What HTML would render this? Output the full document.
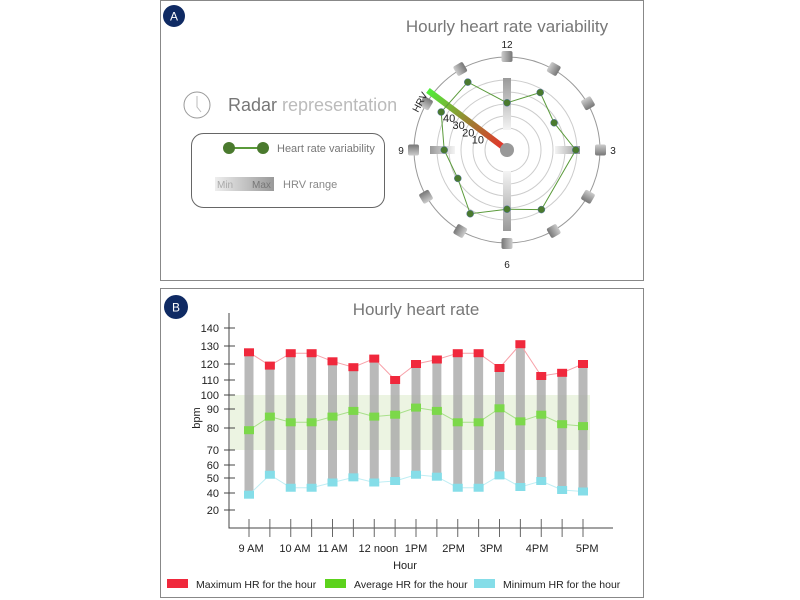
<!DOCTYPE html>
<html><head><meta charset="utf-8"><style>
body{margin:0;width:800px;height:600px;background:#fff;font-family:"Liberation Sans",sans-serif;overflow:hidden}
svg{display:block}
</style></head><body>
<svg id="root" width="800" height="600" viewBox="0 0 800 600">
<defs>
<linearGradient id="hrvg" x1="0" y1="0" x2="1" y2="0"><stop offset="0" stop-color="#ee2a2a"/><stop offset="0.45" stop-color="#a07a30"/><stop offset="1" stop-color="#50ee3a"/></linearGradient>
<linearGradient id="rangeg" x1="0" y1="0" x2="1" y2="0"><stop offset="0" stop-color="#eee"/><stop offset="1" stop-color="#999"/></linearGradient>
<linearGradient id="radg" x1="0" y1="0" x2="1" y2="0"><stop offset="0" stop-color="#f4f4f4"/><stop offset="1" stop-color="#9a9a9a"/></linearGradient>
<linearGradient id="knob" x1="0" y1="0" x2="0" y2="1"><stop offset="0" stop-color="#ccc"/><stop offset="1" stop-color="#777"/></linearGradient>
</defs>
<rect x="160.5" y="0.5" width="483" height="280" fill="none" stroke="#888"/>
<circle cx="174" cy="16" r="11" fill="#0f2a63"/>
<text x="174" y="20.5" fill="#fff" font-size="12" text-anchor="middle">A</text>
<text x="507" y="32" fill="#777" font-size="17" text-anchor="middle">Hourly heart rate variability</text>
<g><circle cx="197" cy="105" r="13" fill="none" stroke="#999" stroke-width="1"/><path d="M197 96 L197 107 L201 112" fill="none" stroke="#bbb" stroke-width="1"/></g>
<text x="228" y="111" font-size="18" fill="#777">Radar <tspan fill="#bbb">representation</tspan></text>
<rect x="191.5" y="133.5" width="193" height="74" rx="12" fill="none" stroke="#666"/>
<g><line x1="229" y1="148" x2="263" y2="148" stroke="#5a9a3a" stroke-width="2"/><circle cx="229" cy="148" r="6" fill="#4a7a2e"/><circle cx="263" cy="148" r="6" fill="#4a7a2e"/></g>
<text x="277" y="152" font-size="11" fill="#777">Heart rate variability</text>
<rect x="215" y="177" width="59" height="14" fill="url(#rangeg)"/>
<text x="217" y="188" font-size="10" fill="#aaa">Min</text>
<text x="252" y="188" font-size="10" fill="#777">Max</text>
<text x="283" y="188" font-size="11" fill="#888">HRV range</text>
<g id="radar"></g>
<rect x="160.5" y="288.5" width="483" height="309" fill="none" stroke="#888"/>
<circle cx="176" cy="307" r="12" fill="#0f2a63"/>
<text x="176" y="311.5" fill="#fff" font-size="12" text-anchor="middle">B</text>
<text x="416" y="315" fill="#777" font-size="17" text-anchor="middle">Hourly heart rate</text>
<g id="bars"></g>
<text x="405" y="569" font-size="11" fill="#222" text-anchor="middle">Hour</text>
<text transform="translate(200,418) rotate(-90)" font-size="11" fill="#222" text-anchor="middle">bpm</text>
<g><rect x="167" y="579" width="21" height="9" fill="#f0283c"/><text x="196" y="588" font-size="10.5" fill="#222">Maximum HR for the hour</text></g>
<g><rect x="325" y="579" width="21" height="9" fill="#5cd21c"/><text x="354" y="588" font-size="10.5" fill="#222">Average HR for the hour</text></g>
<g><rect x="474" y="579" width="21" height="9" fill="#85dde8"/><text x="503" y="588" font-size="10.5" fill="#222">Minimum HR for the hour</text></g>
</svg>
<script>
const NS="http://www.w3.org/2000/svg";
// ---- radar data ----
const hourLabels=["12","","","3","","","6","","","9","",""];
const hrvValues=[21,37,27,39,null,39,31,43,29,34,45,47];
const ringValues=[10,20,30,40];
const ringLabels=["10","20","30","40"];
// ---- bar data ----
const hours=["9 AM","","10 AM","","11 AM","","12 noon","","1PM","","2PM","","3PM","","4PM","","5PM"];
const maxHR=[126.5,119,126,126,121.5,118,123,110,120,122.5,126,126,117.5,131,112.5,114.5,120];
const avgHR=[79,86,83,83,86,89,86,87,91,89,83,83,90.5,83.5,87,82,81];
const minHR=[38,52.5,43.5,43.5,47,50.5,47,48,52.5,51,43.5,43.5,52,44,48,42,41];
const yTicks=[20,40,50,60,70,80,90,100,110,120,130,140];
const xTickLabels=["9 AM","10 AM","11 AM","12 noon","1PM","2PM","3PM","4PM","5PM"];
const xLabelAt=[0.1,2.2,4.0,6.2,8.0,9.8,11.6,13.8,16.2];

function mk(tag,attrs,parent){const e=document.createElementNS(NS,tag);for(const k in attrs)e.setAttribute(k,attrs[k]);parent.appendChild(e);return e;}

const R=document.getElementById('radar');
const cx=507,cy=150;
const rScale=v=>22+v*1.2;
const ang=i=>i*Math.PI/6;
const pt=(i,r)=>[cx+r*Math.sin(ang(i)),cy-r*Math.cos(ang(i))];
[0].concat(ringValues).forEach(v=>{const c=mk('circle',{cx,cy,r:rScale(v),fill:'none',stroke:'#ccc','stroke-width':1},R);

});
const oc=mk('circle',{cx,cy,r:93,fill:'none',stroke:'#999','stroke-width':1},R);


const ranges=[[0,20,72],[3,48,73],[6,21,81],[9,52,77]];
ranges.forEach(([i,r0,r1])=>{const deg=i*30-90;const g=mk('rect',{x:r0,y:-4,width:r1-r0,height:8,fill:'url(#radg)',transform:`translate(${cx},${cy}) rotate(${deg})`},R);

});
for(let i=0;i<12;i++){const deg=i*30-90;const k=mk('rect',{x:88,y:-5.5,width:11,height:11,rx:2,fill:'url(#knob)',transform:`translate(${cx},${cy}) rotate(${deg})`},R);

}
const hb=mk('rect',{x:0,y:-3,width:99,height:6,fill:'url(#hrvg)',transform:`translate(${cx},${cy}) rotate(-143)`},R);


const cc=mk('circle',{cx,cy,r:7,fill:'#999'},R);


ringLabels.forEach((t,j)=>{const r=rScale(ringValues[j]);const a=-53*Math.PI/180;
const e=mk('text',{x:cx+r*Math.sin(a)-2,y:cy-r*Math.cos(a)+14,'font-size':11,fill:'#222','text-anchor':'middle'},R);e.textContent=t;

});
const hv=mk('text',{x:0,y:0,'font-size':10,fill:'#222',transform:'translate(418,113) rotate(-62)'},R);hv.textContent='HRV';


hourLabels.forEach((t,i)=>{if(!t)return;const [x,y]=pt(i,i===6?114:106);const e=mk('text',{x,y:y+4,'font-size':10,fill:'#222','text-anchor':'middle'},R);e.textContent=t;

});
const pts=[];hrvValues.forEach((v,i)=>{if(v!==null)pts.push(pt(i,rScale(v)));});
const pl=mk('polygon',{points:pts.map(p=>p.join(',')).join(' '),fill:'none',stroke:'#5a9a3a','stroke-width':1},R);


pts.forEach(p=>{const d=mk('circle',{cx:p[0],cy:p[1],r:3.5,fill:'#4a7a2e',stroke:'#5577aa','stroke-width':0.5},R);

});

const B=document.getElementById('bars');
const y=v=>{const k=[[20,510],[40,493],[50,478],[60,465],[70,450],[80,428],[90,409],[100,395],[110,380],[120,364],[130,346],[140,328]];
for(let i=0;i<k.length-1;i++){if(v<=k[i+1][0]){const t=(v-k[i][0])/(k[i+1][0]-k[i][0]);return k[i][1]+t*(k[i+1][1]-k[i][1]);}}return 328;};
const x0=249,x1=583;
const x=i=>x0+i*(x1-x0)/(hours.length-1);
const band=mk('rect',{x:230,y:y(100),width:360,height:y(70)-y(100),fill:'#e9f2dd',opacity:0.85},B);


const ax=mk('path',{d:'M229 313 V528 H613',fill:'none',stroke:'#444','stroke-width':1},B);


yTicks.forEach(v=>{const l=mk('line',{x1:224,x2:235,y1:y(v),y2:y(v),stroke:'#444'},B);


const t=mk('text',{x:219,y:y(v)+4,'font-size':11,fill:'#222','text-anchor':'end'},B);t.textContent=v;

});
hours.forEach((h,i)=>{const l=mk('line',{x1:x(i),x2:x(i),y1:519,y2:537,stroke:'#666'},B);

});
xTickLabels.forEach((s,j)=>{const t=mk('text',{x:x(xLabelAt[j]),y:552,'font-size':11,fill:'#222','text-anchor':'middle'},B);t.textContent=s;

});
hours.forEach((h,i)=>{const r=mk('rect',{x:x(i)-4.5,y:y(maxHR[i]),width:9,height:y(minHR[i])-y(maxHR[i]),fill:'#a8a8a8',opacity:0.8},B);

});
[[maxHR,'#f7a0a8','#f0283c','max-hr'],[avgHR,'#a8e08a','#7cd84a','avg-hr'],[minHR,'#bfeef4','#85dde8','min-hr']].forEach(([arr,lc,fc,nm])=>{
const p=mk('polyline',{points:arr.map((v,i)=>x(i)+','+y(v)).join(' '),fill:'none',stroke:lc,'stroke-width':1},B);


arr.forEach((v,i)=>{const m=mk('rect',{x:x(i)-5,y:y(v)-4,width:10,height:8,fill:fc},B);

});});
</script>
</body></html>
